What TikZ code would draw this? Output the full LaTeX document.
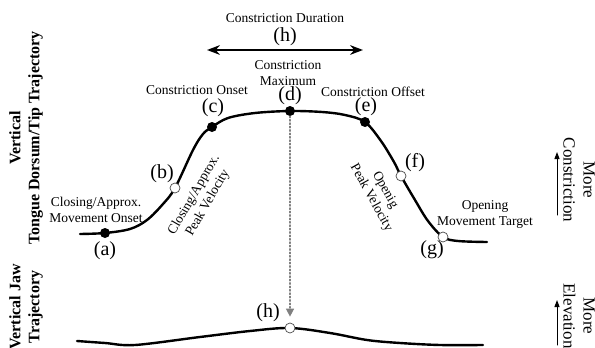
\documentclass[tikz,border=0pt]{standalone}
\usepackage{fontspec}
\setmainfont{Liberation Serif}
\usetikzlibrary{arrows.meta}
\tikzset{
  every picture/.style={line join=round, line cap=round, >=Stealth},
  traj/.style={line width=2.4pt, smooth, tension=0.55},
  fdot/.style={circle, fill=black, inner sep=0pt, minimum size=10pt},
  odot/.style={circle, draw=black!70, fill=white, line width=0.7pt, inner sep=0pt, minimum size=10pt},
  lbl/.style={font=\fontsize{13.5}{16}\selectfont, align=center, inner sep=0pt},
  letter/.style={font=\fontsize{20}{22}\selectfont, inner sep=0pt},
  side/.style={font=\fontsize{16}{19}\selectfont\bfseries, align=center, rotate=90, inner sep=0pt},
  dirlbl/.style={font=\fontsize{17}{20}\selectfont, align=center, rotate=-90, inner sep=0pt},
  jawarrow/.style={gray, dotted, line width=1.4pt, -{Triangle[width=8pt,length=8pt]}},
}
\begin{document}
\begin{tikzpicture}[x=1pt,y=-1pt]
\useasboundingbox (0,0) rectangle (595,348);
% landmarks on the tongue trajectory
\coordinate (pa) at (105,233);
\coordinate (pb) at (175,188);
\coordinate (pc) at (212,127);
\coordinate (pd) at (290,111);
\coordinate (pe) at (365,122);
\coordinate (pf) at (401,176);
\coordinate (pg) at (443,237);
\coordinate (ph) at (290,328);
% trajectories
\draw[traj] plot coordinates {(80,234) (pa) (130,229) (147,220) (163,204) (pb) (193,150) (203,134) (pc) (228,118) (255,113) (pd) (322,112) (345,115) (pe) (381,141) (394,162) (pf) (415,200) (428,221) (pg) (458,241) (487,242)};
\draw[traj] plot coordinates {(77,341) (105,343) (135,345) (200,337) (250,331) (ph) (330,333) (367,340) (400,343) (440,345) (483,345)};
% points
\node[fdot] (a) at (pa) {};
\node[odot] (b) at (pb) {};
\node[fdot] (c) at (pc) {};
\node[fdot] (d) at (pd) {};
\node[fdot] (e) at (pe) {};
\node[odot] (f) at (pf) {};
\node[odot] (g) at (pg) {};
\node[odot] (hj) at (ph) {};
\draw[jawarrow] (d.south) -- ([yshift=6pt]hj.north);
% letters
\node[letter] (la) at (105,251) {(a)};
\node[letter] (lb) at (162,174) {(b)};
\node[letter] (lc) at (213,108) {(c)};
\node[letter] (ld) at (290,96) {(d)};
\node[letter] (le) at (366,107) {(e)};
\node[letter] (lf) at (415,163) {(f)};
\node[letter] (lg) at (432,250) {(g)};
\node[letter] (lh) at (285,37) {(h)};
\node[letter] (lhj) at (268,313) {(h)};
% duration
\coordinate (durL) at (207,50);
\coordinate (durR) at (363,50);
\draw[<->, line width=2.2pt] (durL) -- (durR);
\node[lbl] (tdur) at (285,18) {Constriction Duration};
% text labels
\node[lbl] (tmax) at (288,73) {Constriction\\Maximum};
\node[lbl] (ton) at (197,90) {Constriction Onset};
\node[lbl] (toff) at (373,92) {Constriction Offset};
\node[lbl] (tmon) at (96,210) {Closing/Approx.\\Movement Onset};
\node[lbl] (ttar) at (485,214) {Opening\\Movement Target};
\node[lbl, rotate=60] (tcv) at (201,199) {Closing/Approx.\\Peak Velocity};
\node[lbl, rotate=-61] (tov) at (378,194) {Openig\\Peak Velocity};
% axes
\node[side] (tongue) at (26,138) {Vertical\\Tongue Dorsum/Tip Trajectory};
\node[side] (jaw) at (26,307) {Vertical Jaw\\Trajectory};
\node[dirlbl] (mcon) at (579,180) {More\\Constriction};
\node[dirlbl] (melev) at (579,316) {More\\Elevation};
\coordinate (cs) at (557,215);
\coordinate (ce) at (557,152);
\coordinate (es) at (557,345);
\coordinate (ee) at (557,300);
\draw[-{Triangle[width=5pt,length=7pt]}, line width=1pt] (cs) -- (ce);
\draw[-{Triangle[width=5pt,length=7pt]}, line width=1pt] (es) -- (ee);
\end{tikzpicture}
\end{document}
